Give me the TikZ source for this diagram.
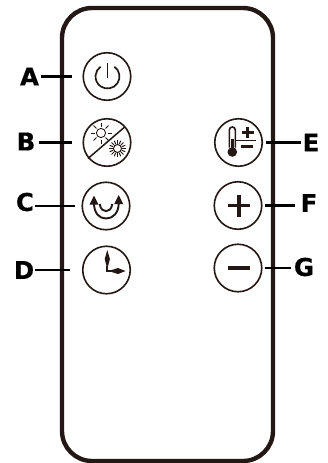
\documentclass[tikz,border=0pt]{standalone}
\usepackage{fontspec}
\setmainfont[BoldFeatures={FakeBold=0.5}]{DejaVu Sans}
\definecolor{inkc}{HTML}{231815}
\tikzset{
  x=1pt,y=-1pt,
  body/.style={draw=inkc,line width=4.4pt,rounded corners=30pt},
  btn/.style={circle,draw=inkc,line width=1.6pt,minimum size=47.5pt,inner sep=0pt},
  lab/.style={font=\bfseries\fontsize{24.5}{24.5}\selectfont,inner sep=0pt,text=black},
  leader/.style={draw=black,line width=2.3pt},
  icon/.style={draw=inkc,line width=1.7pt},
  heavy icon/.style={draw=inkc,line width=3.8pt},
}
\begin{document}
\begin{tikzpicture}
\useasboundingbox (0,0) rectangle (328,463);
\draw[body] (62,8) rectangle (273,461);
% buttons
\node[btn] (a) at (107,76.5) {};
\node[btn] (b) at (107,142.5) {};
\node[btn] (c) at (106,206) {};
\node[btn] (d) at (106.5,270) {};
\node[btn] (e) at (238.5,142.5) {};
\node[btn] (f) at (238,205.5) {};
\node[btn] (g) at (238,268) {};
% labels
\node[lab] (la) at (29.5,76.5) {A};
\node[lab] (lb) at (26,141.5) {B};
\node[lab] (lc) at (25,202) {C};
\node[lab] (ld) at (24,270) {D};
\node[lab] (le) at (311,142.5) {E};
\node[lab] (lf) at (309,203) {F};
\node[lab] (lg) at (304,267) {G};
% leaders
\draw[leader,shorten <=2pt,shorten >=10pt] (la.east) -- (a.west);
\draw[leader,shorten <=3pt,shorten >=10pt] (lb.east |- b.west) -- (b.west);
\draw[leader,shorten <=1pt,shorten >=6pt] (lc.east |- c.west) -- (c.west);
\draw[leader,shorten <=1pt,shorten >=12pt] (ld.east |- d.west) -- (d.west);
\draw[leader,shorten <=3pt,shorten >=1.5pt] (e.east) -- (le.west |- e.east);
\draw[leader,shorten <=2pt,shorten >=5pt] (f.east) -- (lf.west |- f.east);
\draw[leader,shorten <=2pt,shorten >=3pt] (g.east) -- (lg.west |- g.east);
% power icon (inner y axis points up)
\begin{scope}[shift={(a.center)},y=1pt]
  \draw[icon] (0.5,0) ++(55:12) arc[start angle=55,end angle=-235,radius=12];
  \draw[icon] (0.5,13.5) -- (0.5,-1);
\end{scope}
% sun / moon
\begin{scope}[shift={(b.center)}]
  \draw[icon,line width=1.5pt] (17.7,-15.5) -- (-19,16);
  \draw[icon,line width=.9pt] (-6,-9.5) circle[radius=4.6];
  \foreach \t in {0,45,...,315}
    \draw[icon,line width=1pt] (-6,-9.5) ++(\t:6.5) -- ++(\t:4);
  \draw[icon,line width=1pt] (10.5,6) circle[radius=4];
  \foreach \t in {0,22.5,...,337.5}
    \draw[icon,line width=1pt] (10.5,6) ++(\t:4.8) -- ++(\t:3.6);
\end{scope}
% swing
\begin{scope}[shift={(c.center)}]
  \draw[icon,line width=1.9pt] (-12,-3) .. controls (-12,7) and (-7,12.5) .. (0,12.5) .. controls (7,12.5) and (12.7,7) .. (12.7,-3);
  \draw[icon,line width=1.9pt] (-6.3,-2) .. controls (-5.5,3) and (-3,5.2) .. (0,5.2) .. controls (3,5.2) and (5.5,3) .. (6.3,-2);
  \fill[inkc] (-12,-10.5) -- (-16.5,-1.5) -- (-7.5,-1.5) -- cycle;
  \fill[inkc] (12.7,-11) -- (17.2,-2) -- (8.2,-2) -- cycle;
\end{scope}
% clock
\begin{scope}[shift={(d.center)}]
  \fill[inkc] (0.8,-20) -- (3.4,-11) -- (0.8,-1) -- (-1.8,-11) -- cycle;
  \fill[inkc] (2,1) -- (11.5,-2) -- (19,1) -- (11.5,4) -- cycle;
  \draw[icon,line width=2pt] (0.8,-4) -- (0.8,1) -- (5,1);
\end{scope}
% thermometer
\begin{scope}[shift={(e.center)}]
  \draw[icon,line width=1.6pt] (-9.2,5) -- (-9.2,-12.5) .. controls (-9.2,-16.5) and (-3.2,-16.5) .. (-3.2,-12.5) -- (-3.2,5);
  \fill[inkc] (-6.2,9.5) circle[radius=4.8];
  \fill[inkc] (-7.4,-4) rectangle (-5,8);
  \draw[icon,line width=1pt] (-2.5,-2.5) -- (17.5,-2.5);
  \draw[icon,line width=2.6pt] (3,-10) -- (15,-10) (9,-16) -- (9,-4.5);
  \draw[icon,line width=2.6pt] (2.5,4) -- (14.5,4);
\end{scope}
% plus, minus
\begin{scope}[shift={(f.center)}]
  \draw[heavy icon] (-10,0) -- (12,0);
  \draw[heavy icon] (1,-11) -- (1,11);
\end{scope}
\begin{scope}[shift={(g.center)}]
  \draw[heavy icon] (-10,0) -- (12,0);
\end{scope}
\end{tikzpicture}
\end{document}
